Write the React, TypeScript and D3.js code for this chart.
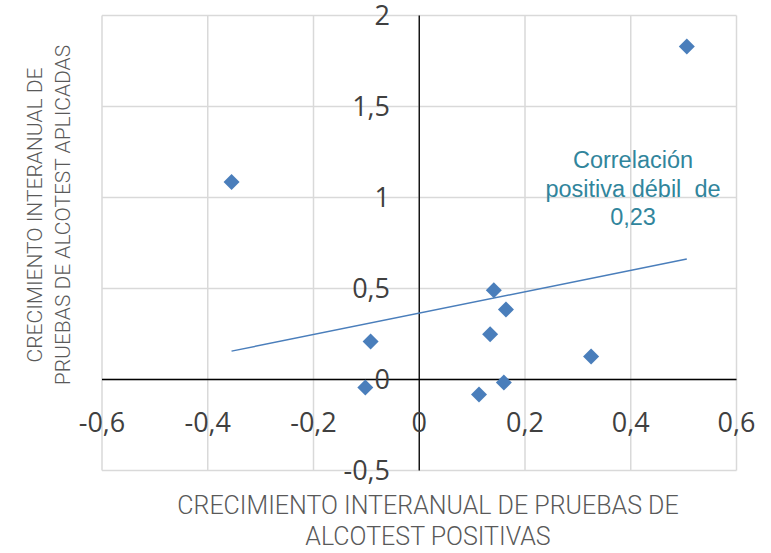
import React from "react";
import * as d3 from "d3";

const xValues = [0.506, -0.355, 0.141, 0.164, 0.134, -0.092, 0.325, -0.102, 0.16, 0.113];
const yValues = [1.83, 1.085, 0.49, 0.385, 0.248, 0.209, 0.127, -0.044, -0.017, -0.083];
const xTicks = [-0.6, -0.4, -0.2, 0, 0.2, 0.4, 0.6];
const yTicks = [-0.5, 0, 0.5, 1, 1.5, 2];
const xTitle = ["CRECIMIENTO INTERANUAL DE PRUEBAS DE", "ALCOTEST POSITIVAS"];
const yTitle = ["CRECIMIENTO INTERANUAL DE", "PRUEBAS DE ALCOTEST APLICADAS"];
const note = ["Correlación", "positiva débil  de", "0,23"];

const W = 771;
const H = 553;
const L = 102, R = 736.5, T = 15.5, B = 470.5;

const fmt = (v: number) => String(Math.round(v * 10) / 10).replace(".", ",");

export default function App() {
  const x = d3.scaleLinear().domain([-0.6, 0.6]).range([L, R]);
  const y = d3.scaleLinear().domain([-0.5, 2]).range([B, T]);

  const n = xValues.length;
  const mx = d3.mean(xValues)!;
  const my = d3.mean(yValues)!;
  let sxy = 0, sxx = 0;
  for (let i = 0; i < n; i++) {
    sxy += (xValues[i] - mx) * (yValues[i] - my);
    sxx += (xValues[i] - mx) ** 2;
  }
  const slope = sxy / sxx;
  const icpt = my - slope * mx;
  const [x0, x1] = d3.extent(xValues) as [number, number];
  const line = d3.line<number>().x((d) => x(d)).y((d) => y(icpt + slope * d));

  const diamond = d3.symbol().type(d3.symbolSquare).size(128)()!;

  return (
    <svg width={W} height={H} style={{ position: "absolute", left: 0, top: 0, background: "#fff" }}>
      <rect x={0} y={0} width={W} height={H} fill="#fff" />
      {/* grid */}
      {xTicks.map((t) => (
        <line key={"gx" + t} x1={x(t)} x2={x(t)} y1={T} y2={B} stroke="#d9d9d9" strokeWidth={1.5} />
      ))}
      {yTicks.map((t) => (
        <line key={"gy" + t} x1={L} x2={R} y1={y(t)} y2={y(t)} stroke="#d9d9d9" strokeWidth={1.5} />
      ))}
      {/* axes */}
      <line x1={L} x2={R} y1={y(0)} y2={y(0)} stroke="#000" strokeWidth={1.3} />
      <line x1={x(0)} x2={x(0)} y1={T} y2={B} stroke="#000" strokeWidth={1.3} />
      {/* tick labels */}
      {xTicks.map((t) => (
        <text key={"tx" + t} x={x(t)} y={432} textAnchor="middle" fontFamily="Open Sans" fontSize={27} fill="#404040">
          {fmt(t)}
        </text>
      ))}
      {yTicks.map((t) => (
        <text key={"ty" + t} x={390} y={y(t)} dy="0.35em" textAnchor="end" fontFamily="Open Sans" fontSize={27} fill="#404040">
          {fmt(t)}
        </text>
      ))}
      {/* trend line */}
      <path d={line([x0, x1])!} fill="none" stroke="#4a7ebb" strokeWidth={1.5} />
      {/* points */}
      {xValues.map((v, i) => (
        <path key={"p" + i} d={diamond} transform={`translate(${x(v)},${y(yValues[i])}) rotate(45)`} fill="#4a7ebb" />
      ))}
      {/* annotation */}
      {note.map((s, i) => (
        <text key={"n" + i} x={633} y={168.3 + i * 28.3} textAnchor="middle" fontFamily="Liberation Sans, Arial" fontSize={23.5} fill="#31859c" style={{ whiteSpace: "pre" }}>
          {s}
        </text>
      ))}
      {/* x title */}
      {xTitle.map((s, i) => (
        <text key={"xt" + i} x={428} y={514 + i * 31} textAnchor="middle" fontFamily="Roboto" fontWeight={300} fontSize={25} fill="#595959">
          {s}
        </text>
      ))}
      {/* y title */}
      {yTitle.map((s, i) => (
        <text key={"yt" + i} transform={`translate(${42 + i * 27.5},215) rotate(-90)`} textAnchor="middle" fontFamily="Roboto" fontWeight={300} fontSize={21} fill="#595959">
          {s}
        </text>
      ))}
    </svg>
  );
}
